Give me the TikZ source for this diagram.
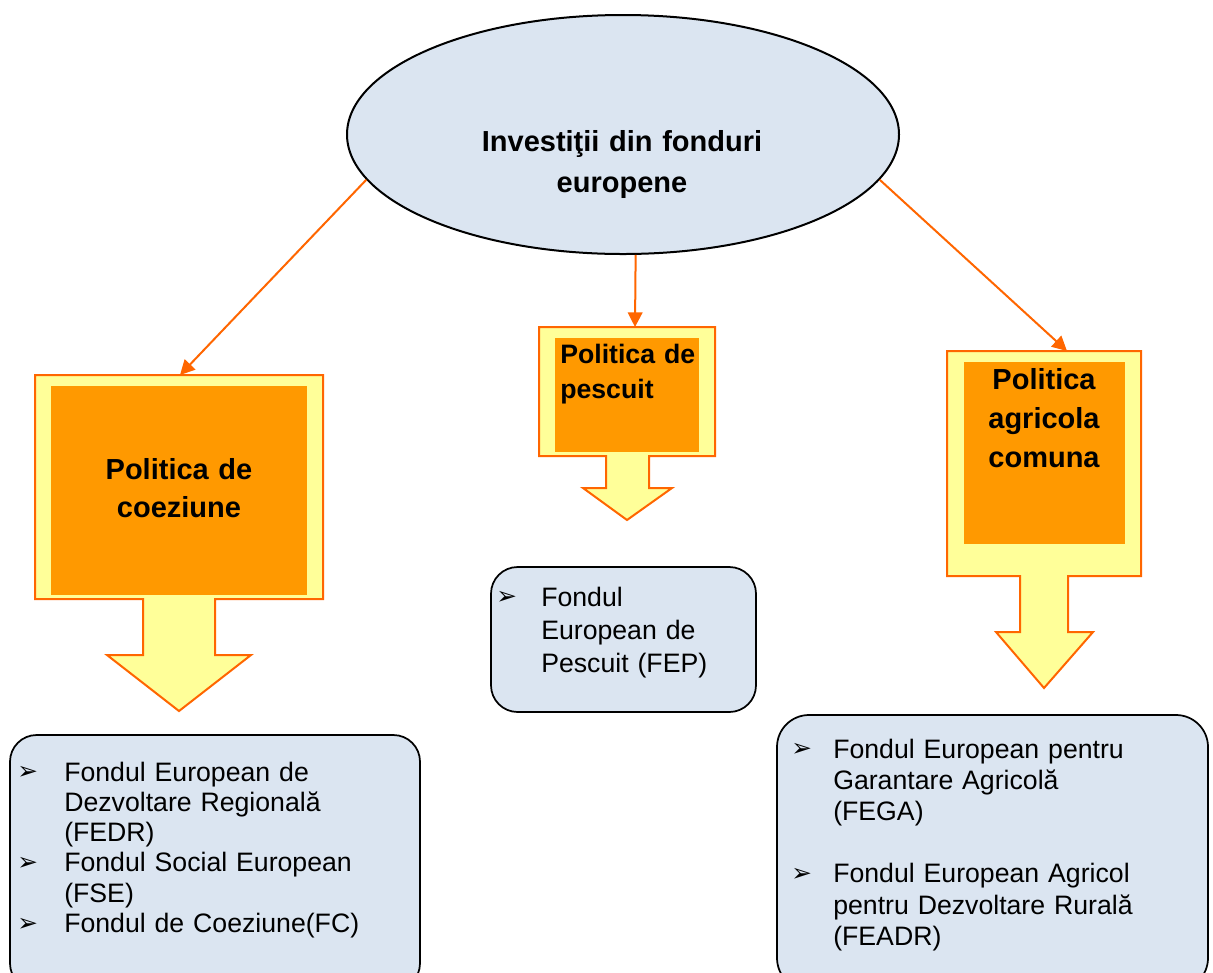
\documentclass[tikz,border=0pt]{standalone}
\usepackage{fontspec}
\setmainfont{Liberation Sans}
\newfontfamily\dejavu{DejaVu Sans}
\usetikzlibrary{shapes.geometric,arrows.meta}
\definecolor{boxblue}{HTML}{DBE5F1}
\definecolor{lyellow}{HTML}{FFFF99}
\definecolor{morange}{HTML}{FF9900}
\definecolor{dorange}{HTML}{FF6600}
\newcommand{\bul}{\raisebox{1pt}{\dejavu\fontsize{18.5}{18.5}\selectfont ➢}}
\begin{document}
\begin{tikzpicture}[x=0.75pt,y=-0.75pt,
  conn/.style={draw=dorange, line width=1.5pt, -{Triangle[length=11pt,width=11pt]}},
  blockarrow/.style={fill=lyellow, draw=dorange, line width=1.5pt, line join=miter},
  orangefill/.style={fill=morange, draw=none, inner sep=0pt},
  fundbox/.style={fill=boxblue, draw=black, line width=1.3pt, rounded corners=20pt},
  btxt/.style={font=\bfseries\fontsize{21.75}{28.5}\selectfont, inner sep=0pt, align=center, anchor=base},
  ntxt/.style={font=\fontsize{20}{22.7}\selectfont, inner sep=0pt, align=left, anchor=base west}
]
\useasboundingbox (0,0) rectangle (1213,972);
\clip (0,0) rectangle (1213,972);
\fill[white] (0,0) rectangle (1213,972);

% top ellipse
\node[ellipse, fill=boxblue, draw=black, line width=1.5pt, inner sep=0pt,
      minimum width=414pt, minimum height=179.25pt] (ell) at (623,134.5) {};
\node[btxt, text width=300pt, font=\bfseries\fontsize{21.75}{30.75}\selectfont] (title) at (622,151)
  {Investiţii din fonduri\\europene};

% block arrow 1 : coeziune
\path[blockarrow] (35,375) -- (323,375) -- (323,599) -- (215,599) -- (215,655) -- (251,655)
  -- (179,711) -- (107,655) -- (143,655) -- (143,599) -- (35,599) -- cycle;
\fill[morange] (51,386) rectangle (307,595);
\coordinate (t1) at (180,375);
\node[btxt, text width=250pt] (coez) at (179,479) {Politica de\\coeziune};

% block arrow 2 : pescuit
\path[blockarrow] (539,327) -- (715,327) -- (715,456) -- (649,456) -- (649,488) -- (672,488)
  -- (627,520) -- (583,488) -- (606,488) -- (606,456) -- (539,456) -- cycle;
\fill[morange] (555,338) rectangle (699,452);
\coordinate (t2) at (635,327);
\node[font=\bfseries\fontsize{20}{26.25}\selectfont, inner sep=0pt, text width=140pt,
      align=left, anchor=base west] (pesc) at (560,363) {Politica de\\pescuit};

% block arrow 3 : agricola
\path[blockarrow] (947,351) -- (1141,351) -- (1141,576) -- (1068,576) -- (1068,632) -- (1093,632)
  -- (1044,688) -- (996,632) -- (1020,632) -- (1020,576) -- (947,576) -- cycle;
\fill[morange] (964,362) rectangle (1125,544);
\coordinate (t3) at (1067,351);
\node[btxt, text width=150pt, font=\bfseries\fontsize{21.75}{29.25}\selectfont] (agri) at (1044,389)
  {Politica\\agricola\\comuna};

% connectors
\draw[conn] (ell.190.9) -- (t1);
\draw[conn] (ell.-84.3) -- (t2);
\draw[conn] (ell.-10.9) -- (t3);

% fund boxes
\draw[fundbox] (10,735) rectangle (420,990);
\draw[fundbox] (491,567) rectangle (756,712);
\draw[fundbox, rounded corners=24pt] (777,715) rectangle (1208,990);

\node[ntxt, text width=320pt] (lt) at (17,781)
  {\makebox[35.25pt][l]{\bul}Fondul European de\\
   \hspace*{35.25pt}Dezvoltare Regională\\
   \hspace*{35.25pt}(FEDR)\\
   \makebox[35.25pt][l]{\bul}Fondul Social European\\
   \hspace*{35.25pt}(FSE)\\
   \makebox[35.25pt][l]{\bul}Fondul de Coeziune(FC)};

\node[ntxt, text width=190pt, font=\fontsize{20}{24.75}\selectfont] (mt) at (496,606)
  {\makebox[33.75pt][l]{\bul}Fondul\\
   \hspace*{33.75pt}European de\\
   \hspace*{33.75pt}Pescuit (FEP)};

\node[ntxt, text width=310pt, font=\fontsize{20}{23.4}\selectfont] (rt) at (791,758)
  {\makebox[31.5pt][l]{\bul}Fondul European pentru\\
   \hspace*{31.5pt}Garantare Agricolă\\
   \hspace*{31.5pt}(FEGA)\\[23.4pt]
   \makebox[31.5pt][l]{\bul}Fondul European Agricol\\
   \hspace*{31.5pt}pentru Dezvoltare Rurală\\
   \hspace*{31.5pt}(FEADR)};
\end{tikzpicture}
\end{document}
